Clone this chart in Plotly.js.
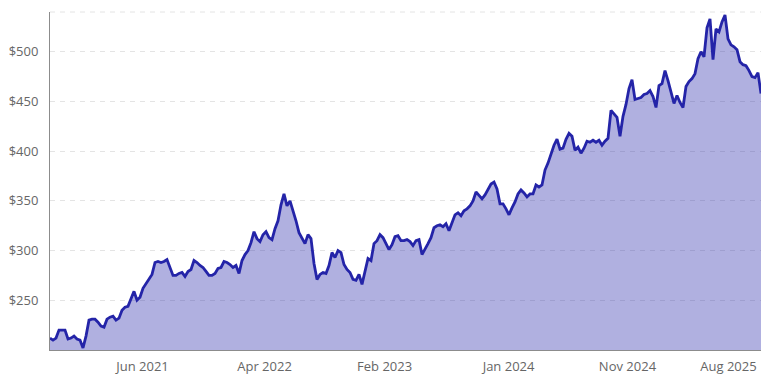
<!DOCTYPE html>
<html>
<head>
<meta charset="utf-8">
<script src="https://cdn.plot.ly/plotly-3.0.1.min.js"></script>
<style>html,body{margin:0;padding:0;background:#fff;}#chart{width:761px;height:375px;}</style>
</head>
<body>
<div id="chart"></div>
<script>
// Price series, sampled at regular intervals (approx. weekly) from late Oct 2020 to Oct 2025
const startDate = Date.UTC(2020, 9, 20);
const stepDays = 7.72;
const prices = [
  212,210,212,220,220,220,211,212,214,211,
  210,202,214,230,231,231,228,224,223,231,
  233,234,230,232,240,243,244,251,259,250,
  253,262,267,271,276,288,289,288,289,291,
  283,275,275,277,278,274,279,281,290,288,
  285,283,279,275,275,277,282,283,289,288,
  286,283,285,277,290,296,300,308,319,312,
  309,316,319,313,311,322,330,346,357,345,
  350,341,330,318,312,307,316,312,287,271,
  276,278,277,285,298,293,300,298,286,281,
  278,271,270,276,266,278,292,290,307,310,
  316,313,307,301,306,314,315,310,310,311,
  309,305,310,311,296,301,307,313,323,325,
  326,324,327,320,328,336,338,335,340,342,
  345,350,359,356,352,356,361,367,369,362,
  347,347,342,336,343,349,357,361,358,354,
  357,357,366,364,366,381,388,397,406,412,
  402,403,412,418,415,401,404,398,403,410,
  409,411,409,411,406,410,413,441,437,434,
  415,435,447,463,472,452,453,454,457,458,
  461,455,444,466,468,481,471,459,448,456,
  449,444,465,470,473,478,493,500,495,524,
  533,492,523,520,530,537,513,507,505,502,
  490,487,486,481,475,474,479,458
];
const dates = prices.map((_, i) =>
  new Date(startDate + i * stepDays * 86400000).toISOString().slice(0, 19).replace('T', ' ')
);
const tickDates = ['2021-06-15','2022-04-25','2023-02-28','2024-01-13','2024-11-14','2025-08-01'];
const tickLabels = ['Jun 2021','Apr 2022','Feb 2023','Jan 2024','Nov 2024','Aug 2025'];
const yTicks = [250, 300, 350, 400, 450, 500];
const yTickLabels = ['$250', '$300', '$350', '$400', '$450', '$500'];

const trace = {
  x: dates,
  y: prices,
  type: 'scatter',
  mode: 'lines',
  fill: 'tozeroy',
  fillcolor: 'rgba(35,35,170,0.36)',
  line: {color: '#2424a8', width: 2.8, shape: 'linear'},
  hoverinfo: 'skip'
};

const layout = {
  width: 761,
  height: 375,
  margin: {l: 50, r: 0, t: 12, b: 25, pad: 0},
  paper_bgcolor: '#ffffff',
  plot_bgcolor: '#ffffff',
  showlegend: false,
  font: {family: '"Open Sans", "Noto Sans", sans-serif', size: 13, color: '#666666'},
  xaxis: {
    type: 'date',
    range: [dates[0], dates[dates.length - 1]],
    tickmode: 'array',
    tickvals: tickDates,
    ticktext: tickLabels,
    showgrid: false,
    zeroline: false,
    showline: true,
    linecolor: '#8c8c8c',
    linewidth: 1,
    ticks: '',
    ticklabelstandoff: 4,
    tickfont: {size: 13, color: '#666666'}
  },
  yaxis: {
    range: [200, 540],
    tickmode: 'array',
    tickvals: yTicks,
    ticktext: yTickLabels,
    showgrid: true,
    gridcolor: '#e4e4e4',
    griddash: '5px,5px',
    gridwidth: 1,
    zeroline: false,
    showline: true,
    linecolor: '#8c8c8c',
    linewidth: 1,
    ticks: '',
    ticklabelstandoff: 8,
    tickfont: {size: 13, color: '#666666'}
  },
  shapes: [{
    type: 'line', xref: 'paper', yref: 'paper', x0: 0, x1: 1, y0: 1, y1: 1,
    line: {color: '#e4e4e4', width: 1, dash: '5px,5px'}, layer: 'below'
  }]
};

Plotly.newPlot('chart', [trace], layout, {displayModeBar: false, staticPlot: true});
</script>
</body>
</html>
